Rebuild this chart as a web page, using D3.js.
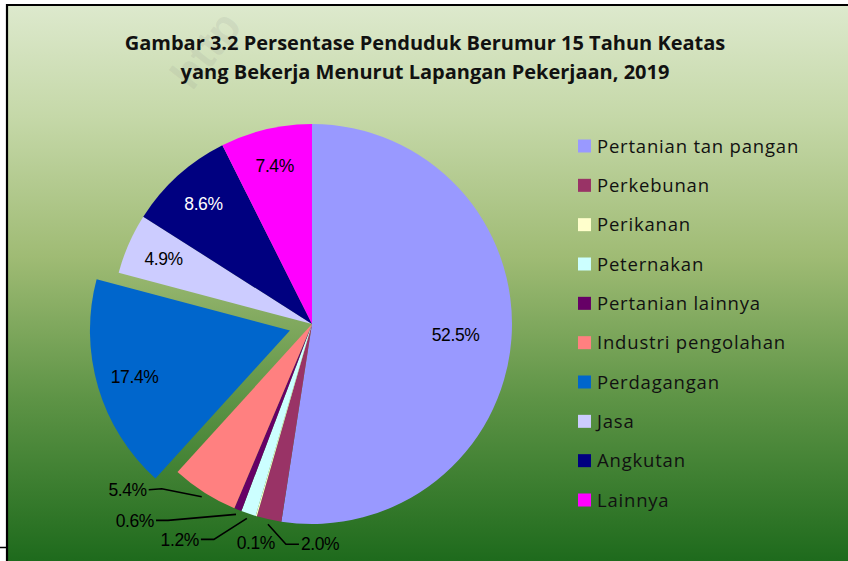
<!DOCTYPE html>
<html>
<head>
<meta charset="utf-8">
<script src="https://cdn.jsdelivr.net/npm/d3@7"></script>
<style>
  html, body { margin: 0; padding: 0; background: #fff; }
  svg { display: block; }
</style>
</head>
<body>
<script>
// data
const categories = ["Pertanian tan pangan", "Perkebunan", "Perikanan", "Peternakan",
    "Pertanian lainnya", "Industri pengolahan", "Perdagangan", "Jasa", "Angkutan", "Lainnya"];
const values = [52.5, 2.0, 0.1, 1.2, 0.6, 5.4, 17.4, 4.9, 8.6, 7.4];
const colors = ["#9999ff", "#993366", "#ffffcc", "#ccffff", "#660066",
    "#ff8080", "#0066cc", "#ccccff", "#000080", "#ff00ff"];
const titleLines = ["Gambar 3.2 Persentase Penduduk Berumur 15 Tahun Keatas",
    "yang Bekerja Menurut Lapangan Pekerjaan, 2019"];

function go() {
    const width = 848, height = 561;
    const cx = 312, cy = 324, r = 200;
    const explodeIdx = 6, explodeBy = 23;

    const svg = d3.select("body").append("svg")
        .attr("width", width)
        .attr("height", height);

    const defs = svg.append("defs");
    const grad = defs.append("linearGradient")
        .attr("id", "bg")
        .attr("x1", 0).attr("y1", 0).attr("x2", 0).attr("y2", 1);
    [[0, "#dde9cd"], [0.2, "#c5d8a8"], [0.45, "#9fbb74"], [0.7, "#5e9446"], [1, "#1c691b"]]
        .forEach(function(s) {
            grad.append("stop").attr("offset", s[0]).attr("stop-color", s[1]);
        });

    // chart area + frame
    svg.append("rect")
        .attr("x", 6).attr("y", 5)
        .attr("width", width).attr("height", height)
        .attr("fill", "url(#bg)");
    svg.append("path")
        .attr("d", "M7," + (height) + " L7,5 L" + width + ",5")
        .attr("fill", "none")
        .attr("stroke", "#000")
        .attr("stroke-width", 2.2);
    svg.append("line")
        .attr("x1", 0).attr("x2", 8)
        .attr("y1", 547.5).attr("y2", 547.5)
        .attr("stroke", "#000").attr("stroke-width", 1.5);

    // faint watermark
    svg.append("text")
        .attr("transform", "translate(192,92) rotate(-52)")
        .attr("font-family", "Liberation Sans, Arial, sans-serif")
        .attr("font-size", 44)
        .attr("font-weight", "bold")
        .attr("fill", "#888")
        .attr("fill-opacity", 0.13)
        .text("http");

    // title
    svg.append("g").selectAll("text")
        .data(titleLines)
        .enter().append("text")
        .attr("x", 425)
        .attr("y", function(d, i) { return 50 + i * 29; })
        .attr("text-anchor", "middle")
        .attr("font-family", "Open Sans, sans-serif")
        .attr("font-weight", "bold")
        .attr("font-size", 20)
        .attr("fill", "#111")
        .text(function(d) { return d; });

    // pie
    const pie = d3.pie().sort(null).value(function(d) { return d; });
    const arcs = pie(values);
    const arc = d3.arc().innerRadius(0).outerRadius(r);

    function dir(a) { return [Math.sin(a), -Math.cos(a)]; }
    function offset(d, i) {
        if (i !== explodeIdx) return [0, 0];
        const v = dir((d.startAngle + d.endAngle) / 2);
        return [v[0] * explodeBy, v[1] * explodeBy];
    }

    const g = svg.append("g").attr("transform", "translate(" + cx + "," + cy + ")");

    g.selectAll("path.slice")
        .data(arcs)
        .enter().append("path")
        .attr("class", "slice")
        .attr("transform", function(d, i) {
            const o = offset(d, i);
            return "translate(" + o[0] + "," + o[1] + ")";
        })
        .attr("d", arc)
        .attr("fill", function(d, i) { return colors[i]; });

    // outside labels with leader lines: label position relative to the edge point
    const outside = [
        {i: 5, dx: -55, dy: -7, ex: -40, ey: -8, line: true},
        {i: 4, dx: -82, dy: 6, ex: -68, ey: 6, line: true},
        {i: 3, dx: -48, dy: 21, ex: -33, ey: 21, line: true},
        {i: 2, dx: 1, dy: 22, ex: 0, ey: 0, line: false},
        {i: 1, dx: 33, dy: 20, ex: 18, ey: 20, line: true}
    ];
    const outsideIdx = outside.map(function(o) { return o.i; });

    // inside labels
    const inside = arcs.map(function(d, i) { return i; })
        .filter(function(i) { return outsideIdx.indexOf(i) < 0; });
    g.selectAll("text.inlabel")
        .data(inside)
        .enter().append("text")
        .attr("class", "inlabel")
        .attr("transform", function(i) {
            const d = arcs[i];
            const o = offset(d, i);
            const v = dir((d.startAngle + d.endAngle) / 2);
            const lr = values[i] > 50 ? r * 0.72 : r * 0.81;
            return "translate(" + (v[0] * lr + o[0]) + "," + (v[1] * lr + o[1]) + ")";
        })
        .attr("text-anchor", "middle")
        .attr("dy", "0.35em")
        .attr("font-family", "Liberation Sans, Arial, sans-serif")
        .attr("font-size", 17.5)
        .attr("letter-spacing", -0.4)
        .attr("fill", function(i) { return i === 8 ? "#fff" : "#000"; })
        .text(function(i) { return values[i].toFixed(1) + "%"; });

    const lg = g.append("g");
    outside.forEach(function(o) {
        const d = arcs[o.i];
        const v = dir((d.startAngle + d.endAngle) / 2);
        const ax = v[0] * (r + 5), ay = v[1] * (r + 5);
        const tx = ax + o.dx, ty = ay + o.dy;
        if (o.line) {
            const endX = o.dx < 0 ? tx + 2 : tx - 2;
            lg.append("polyline")
                .attr("points", [[ax, ay], [ax + o.ex, ay + o.ey], [endX, ty]].join(" "))
                .attr("fill", "none")
                .attr("stroke", "#000")
                .attr("stroke-width", 1.6);
        }
        lg.append("text")
            .attr("x", tx)
            .attr("y", ty)
            .attr("dy", "0.35em")
            .attr("text-anchor", o.dx < 0 ? "end" : (o.line ? "start" : "middle"))
            .attr("font-family", "Liberation Sans, Arial, sans-serif")
            .attr("font-size", 17.5)
            .attr("letter-spacing", -0.4)
            .attr("fill", "#000")
            .text(values[o.i].toFixed(1) + "%");
    });

    // legend
    const y = d3.scalePoint().domain(categories).range([146, 500]);
    const leg = svg.append("g").selectAll("g")
        .data(categories)
        .enter().append("g")
        .attr("transform", function(d) { return "translate(578," + y(d) + ")"; });
    leg.append("rect")
        .attr("x", 0).attr("y", -6.5)
        .attr("width", 13).attr("height", 13)
        .attr("fill", function(d, i) { return colors[i]; });
    leg.append("text")
        .attr("x", 19)
        .attr("dy", "0.36em")
        .attr("font-family", "Open Sans, sans-serif")
        .attr("font-size", 18.5)
        .attr("letter-spacing", 0.8)
        .attr("fill", "#111")
        .text(function(d) { return d; });
}

window.onload = function() {
    go();
};
</script>
</body>
</html>
